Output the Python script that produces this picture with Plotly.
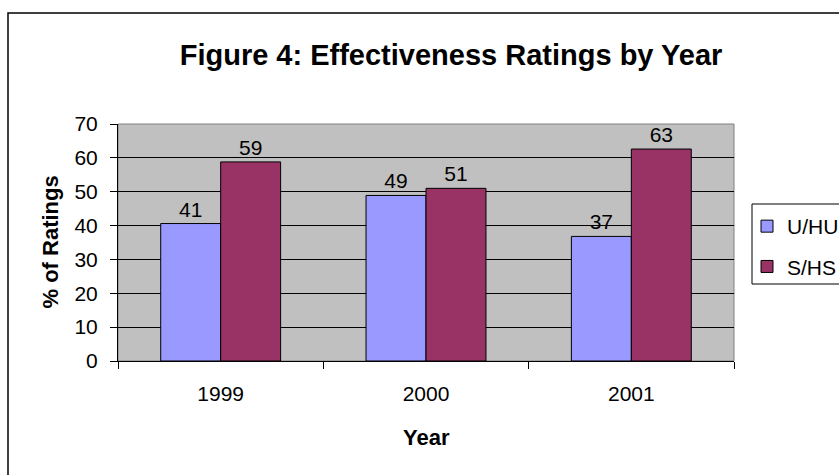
import plotly.graph_objects as go

years = ["1999", "2000", "2001"]
uhu = [40.6, 48.9, 36.8]
shs = [58.8, 51.0, 62.6]
series_names = ["U/HU", "S/HS"]
colors = ["#9999FF", "#993366"]

W, H = 839, 475
L, R, T, B = 118, 734, 124, 361
pw, ph = R - L, B - T

def px(x):
    return (x - L) / pw

def py(y):
    return (B - y) / ph

font_family = "Liberation Sans, Arial, sans-serif"
FS = 21

fig = go.Figure()
for name, vals, col in zip(series_names, [uhu, shs], colors):
    fig.add_trace(go.Bar(
        x=years, y=vals, name=name, legendgroup=name,
        marker=dict(color=col, line=dict(color="#000000", width=1)),
        texttemplate="%{y:.0f}", textposition="outside",
        textfont=dict(size=FS, color="#000000", family=font_family),
        cliponaxis=False,
    ))

fig.update_layout(
    width=W, height=H,
    margin=dict(l=L, r=W - R, t=T, b=H - B, autoexpand=False),
    paper_bgcolor="#FFFFFF",
    plot_bgcolor="#C0C0C0",
    barmode="group",
    bargap=0.416,
    bargroupgap=0,
    font=dict(family=font_family, size=FS, color="#000000"),
    title=dict(
        text="<b>Figure 4: Effectiveness Ratings by Year</b>",
        font=dict(size=29, family=font_family, color="#000000"),
        xref="paper", x=px(451), xanchor="center",
        yref="container", y=1 - 55 / H, yanchor="middle",
    ),
    legend=dict(
        x=px(747), xanchor="left",
        y=py(206), yanchor="top",
        bgcolor="rgba(0,0,0,0)", borderwidth=0,
        font=dict(size=FS, family=font_family, color="#000000"),
        tracegroupgap=10,
        traceorder="grouped",
    ),
    showlegend=True,
)

fig.update_xaxes(
    showline=True, linecolor="#000000", linewidth=1,
    ticks="outside", ticklen=7, tickcolor="#000000", tickwidth=1,
    tickson="boundaries", showgrid=False,
    tickfont=dict(size=FS, family=font_family, color="#000000"),
    ticklabelstandoff=14,
)
fig.update_yaxes(
    range=[0, 70], dtick=10, tick0=0,
    showline=True, linecolor="#000000", linewidth=1,
    ticks="outside", ticklen=7, tickcolor="#000000", tickwidth=1,
    showgrid=True, gridcolor="#000000", gridwidth=1,
    zeroline=False,
    tickfont=dict(size=FS, family=font_family, color="#000000"),
    ticklabelstandoff=8,
)

fig.add_annotation(
    text="<b>% of Ratings</b>", textangle=-90,
    xref="paper", yref="paper", x=px(50), y=0.5,
    xanchor="center", yanchor="middle", showarrow=False,
    font=dict(size=22, family=font_family, color="#000000"),
)
fig.add_annotation(
    text="<b>Year</b>",
    xref="paper", yref="paper", x=0.5, y=py(437),
    xanchor="center", yanchor="middle", showarrow=False,
    font=dict(size=22, family=font_family, color="#000000"),
)

# plot area gray border (top/right)
fig.add_shape(type="rect", xref="paper", yref="paper", x0=0, x1=1, y0=0, y1=1,
              line=dict(color="#808080", width=1), layer="below")
# outer chart border
fig.add_shape(type="rect", xref="paper", yref="paper",
              x0=px(8), x1=px(850), y0=py(485), y1=py(13),
              line=dict(color="#000000", width=1.5))
# legend box
fig.add_shape(type="rect", xref="paper", yref="paper",
              x0=px(752), x1=px(850), y0=py(284), y1=py(204),
              line=dict(color="#000000", width=1), fillcolor="rgba(0,0,0,0)")

fig.write_html("out.html")
